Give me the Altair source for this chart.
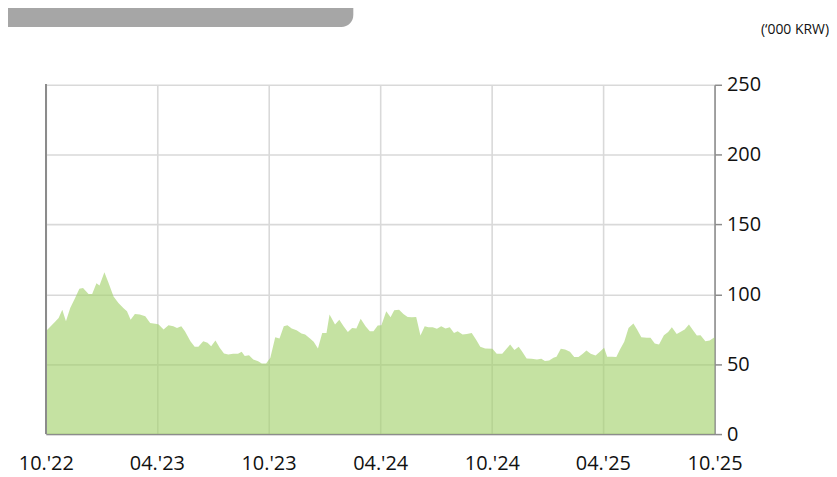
import altair as alt
import pandas as pd

dates = [
    "2022-10-01", "2022-10-09", "2022-10-17", "2022-10-22", "2022-10-28", "2022-11-03",
    "2022-11-10", "2022-11-18", "2022-11-25", "2022-12-01", "2022-12-10", "2022-12-16",
    "2022-12-23", "2022-12-28", "2023-01-05", "2023-01-12", "2023-01-20", "2023-01-28",
    "2023-02-05", "2023-02-11", "2023-02-17", "2023-02-24", "2023-03-04", "2023-03-13",
    "2023-03-21", "2023-04-01", "2023-04-04", "2023-04-12", "2023-04-20", "2023-04-28",
    "2023-05-04", "2023-05-11", "2023-05-17", "2023-05-26", "2023-06-02", "2023-06-08",
    "2023-06-16", "2023-06-23", "2023-06-29", "2023-07-06", "2023-07-13", "2023-07-20",
    "2023-07-27", "2023-08-04", "2023-08-12", "2023-08-18", "2023-08-23", "2023-08-30",
    "2023-09-06", "2023-09-14", "2023-09-20", "2023-09-27", "2023-10-04", "2023-10-12",
    "2023-10-19", "2023-10-26", "2023-11-01", "2023-11-08", "2023-11-16", "2023-11-24",
    "2023-11-30", "2023-12-08", "2023-12-14", "2023-12-21", "2023-12-28", "2024-01-04",
    "2024-01-09", "2024-01-18", "2024-01-25", "2024-02-01", "2024-02-08", "2024-02-15",
    "2024-02-22", "2024-02-29", "2024-03-08", "2024-03-15", "2024-03-21", "2024-03-28",
    "2024-04-03", "2024-04-11", "2024-04-18", "2024-04-24", "2024-05-02", "2024-05-09",
    "2024-05-16", "2024-05-23", "2024-05-30", "2024-06-06", "2024-06-13", "2024-06-19",
    "2024-06-26", "2024-07-03", "2024-07-10", "2024-07-17", "2024-07-24", "2024-07-31",
    "2024-08-06", "2024-08-14", "2024-08-21", "2024-08-29", "2024-09-05", "2024-09-12",
    "2024-09-20", "2024-10-02", "2024-10-09", "2024-10-18", "2024-10-24", "2024-10-31",
    "2024-11-07", "2024-11-14", "2024-11-19", "2024-11-27", "2024-12-05", "2024-12-14",
    "2024-12-21", "2024-12-27", "2025-01-03", "2025-01-10", "2025-01-15", "2025-01-22",
    "2025-01-29", "2025-02-06", "2025-02-13", "2025-02-20", "2025-02-27", "2025-03-05",
    "2025-03-12", "2025-03-20", "2025-03-27", "2025-04-03", "2025-04-08", "2025-04-16",
    "2025-04-23", "2025-04-29", "2025-05-06", "2025-05-13", "2025-05-21", "2025-05-27",
    "2025-06-03", "2025-06-12", "2025-06-18", "2025-06-25", "2025-07-02", "2025-07-10",
    "2025-07-17", "2025-07-23", "2025-07-31", "2025-08-08", "2025-08-13", "2025-08-20",
    "2025-08-27", "2025-09-02", "2025-09-08", "2025-09-16", "2025-09-23", "2025-10-01",
]

prices = [
    73.6, 77.2, 80.7, 83.1, 89.0, 80.7,
    90.2, 97.4, 104.0, 104.5, 100.2, 100.2,
    108.0, 106.4, 115.9, 108.0, 98.5, 93.8,
    90.2, 87.9, 81.9, 86.0, 85.5, 84.3,
    79.5, 78.8, 78.4, 74.8, 77.9, 77.2,
    76.0, 77.2, 73.6, 66.5, 62.5, 62.5,
    66.5, 65.3, 62.9, 67.0, 61.7, 57.7,
    57.0, 57.5, 57.5, 58.9, 55.8, 56.5,
    53.4, 52.2, 50.6, 50.6, 54.6, 69.3,
    68.4, 77.2, 77.9, 75.5, 74.3, 72.0,
    71.2, 68.4, 66.0, 61.3, 72.4, 72.4,
    85.5, 78.4, 81.9, 77.2, 73.1, 76.0,
    75.5, 82.6, 77.2, 73.6, 73.6, 77.7,
    77.9, 87.9, 83.6, 88.6, 89.0, 86.0,
    83.8, 83.6, 83.8, 70.5, 77.2, 76.5,
    76.5, 75.3, 77.2, 75.5, 76.5, 72.4,
    73.6, 71.2, 71.7, 72.4, 67.7, 62.5,
    61.3, 61.0, 57.5, 57.5, 60.6, 64.1,
    60.1, 62.5, 59.4, 54.1, 53.9, 53.4,
    53.9, 52.3, 52.7, 54.6, 55.3, 61.0,
    60.6, 58.9, 55.1, 55.1, 57.5, 59.9,
    57.5, 56.3, 58.9, 61.7, 55.3, 55.3,
    55.1, 60.6, 66.0, 76.0, 79.1, 74.8,
    69.3, 68.9, 68.9, 64.8, 64.1, 70.8,
    73.1, 76.5, 71.7, 73.6, 74.8, 78.4,
    74.1, 70.5, 70.8, 66.5, 67.0, 69.3,
]

tick_dates = ["2022-10-01", "2023-04-01", "2023-10-01", "2024-04-01",
              "2024-10-01", "2025-04-01", "2025-10-01"]
y_ticks = [0, 50, 100, 150, 200, 250]
unit_label = "(\u2018000 KRW)"

df = pd.DataFrame({"date": dates, "price": prices})

FONT = "Open Sans"
W, H = 672, 351


def dt(s):
    y, m, d = (int(p) for p in s.split("-"))
    return alt.DateTime(year=y, month=m, date=d)


x_enc = alt.X(
    "date:T",
    scale=alt.Scale(domain=[dt(tick_dates[0]), dt(tick_dates[-1])]),
    axis=alt.Axis(
        values=[dt(s) for s in tick_dates],
        format="%m.'%y",
        title=None,
        ticks=False,
        domain=True,
        domainColor="#8c8c8c",
        domainWidth=1.5,
        grid=True,
        gridColor="#d9d9d9",
        gridWidth=1.6,
        labelFont=FONT,
        labelFontSize=20,
        labelColor="#111111",
        labelPadding=20,
        labelFlush=False,
        labelOverlap=False,
    ),
)

y_enc = alt.Y(
    "price:Q",
    scale=alt.Scale(domain=[0, 250], nice=False),
    axis=alt.Axis(
        orient="right",
        values=y_ticks,
        title=None,
        domain=True,
        domainColor="#8c8c8c",
        domainWidth=1.5,
        ticks=True,
        tickColor="#8c8c8c",
        tickWidth=1.5,
        tickSize=7,
        grid=True,
        gridColor="#d9d9d9",
        gridWidth=1.6,
        labelFont=FONT,
        labelFontSize=20,
        labelColor="#111111",
        labelPadding=5,
        labelAlign="left",
        labelBaseline="middle",
        labelFlush=False,
    ),
)

area = alt.Chart(df).mark_area(
    color="#a2d169", opacity=0.62, interpolate="linear"
).encode(x=x_enc, y=y_enc)

left_edge = alt.Chart(df).mark_rule(color="#8c8c8c", strokeWidth=1.5).encode(
    x=alt.value(0), y=alt.value(0), y2=alt.value(H)
)

banner_df = pd.DataFrame({"k": [0]})
banner = alt.Chart(banner_df).mark_rect(
    color="#a6a6a6", cornerRadiusBottomRight=12
).encode(
    x=alt.value(-46), x2=alt.value(309), y=alt.value(-90), y2=alt.value(-58)
)

unit = alt.Chart(banner_df).mark_text(
    text=unit_label, font=FONT, fontSize=14, align="right", baseline="middle",
    color="#111111"
).encode(x=alt.value(787), y=alt.value(-55))

chart = alt.layer(area, left_edge, banner, unit).properties(
    width=W, height=H,
    autosize=alt.AutoSizeParams(type="none"),
    padding={"left": 38, "top": 76, "right": 115, "bottom": 45},
).configure_view(stroke=None)

chart.save("out.html", embed_options={"renderer": "svg", "actions": False})
